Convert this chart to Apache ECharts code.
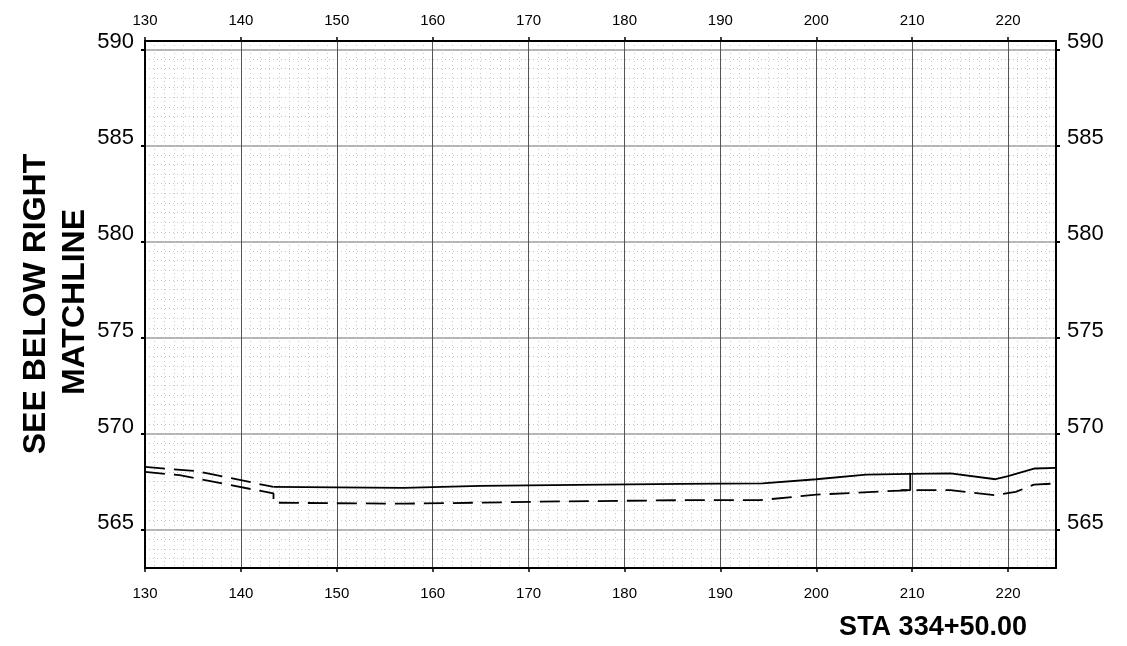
<!DOCTYPE html>
<html>
<head>
<meta charset="utf-8">
<title>STA 334+50.00</title>
<script src="https://cdn.jsdelivr.net/npm/echarts@6/dist/echarts.min.js"></script>
<style>
  html, body { margin: 0; padding: 0; background: #fff; }
  #chart { width: 1127px; height: 646px; }
</style>
</head>
<body>
<div id="chart"></div>
<script>
// tick labels
var xTicks = [130, 140, 150, 160, 170, 180, 190, 200, 210, 220]
var yTicks = [565, 570, 575, 580, 585, 590]

// existing ground, left of the break (dashed)
var groundLeft = [[130, 568.26], [135.4, 568.04], [143.4, 567.22]]

// existing ground (solid)
var groundRight = [
  [143.4, 567.22], [150, 567.2], [157, 567.17], [165, 567.27], [175, 567.33],
  [186, 567.38], [194.4, 567.4], [200, 567.62], [205.2, 567.86], [209.8, 567.9],
  [214, 567.92], [218.7, 567.62], [220, 567.78], [222.8, 568.18], [225, 568.21]
]

// proposed grade (dashed)
var proposed = [
  [130, 568.0], [133.6, 567.83], [143.4, 566.88], [143.4, 566.4], [150, 566.37],
  [157, 566.35], [165, 566.4], [170.8, 566.45], [186, 566.53], [194.1, 566.53],
  [200, 566.82], [209.7, 567.05], [214, 567.05], [218.7, 566.79], [220.8, 566.96],
  [222.7, 567.34], [225, 567.4]
]

// tie line at sta 209.8
var tieLine = [[208.8, 567.05], [209.8, 567.05], [209.8, 567.9]]

var font = 'Liberation Sans, Arial, sans-serif'

var chart = echarts.init(document.getElementById('chart'))

function xAxisOpt(pos, grid) {
  return {
    type: 'value',
    position: pos,
    min: 130,
    max: 225,
    interval: 10,
    axisLine: { show: true, onZero: false, lineStyle: { color: '#000', width: 2 } },
    axisTick: { show: true, length: 4, customValues: xTicks, lineStyle: { color: '#000', width: 1.5 } },
    axisLabel: {
      show: true,
      customValues: xTicks,
      margin: pos === 'top' ? 13 : 18,
      fontSize: 15,
      fontFamily: font,
      color: '#000'
    },
    splitLine: { show: grid, lineStyle: { color: '#555', width: 1 } }
  }
}

function yAxisOpt(pos, grid) {
  return {
    type: 'value',
    position: pos,
    min: 563,
    max: 590.43,
    axisLine: { show: true, onZero: false, lineStyle: { color: '#000', width: 2 } },
    axisTick: { show: true, length: 4, customValues: yTicks, lineStyle: { color: '#000', width: 2 } },
    axisLabel: {
      show: true,
      customValues: yTicks,
      margin: 11,
      fontSize: 22,
      fontFamily: font,
      color: '#000',
      verticalAlign: 'bottom',
      lineHeight: 14
    },
    splitLine: { show: grid, lineStyle: { color: '#a0a0a0', width: 1.5 } }
  }
}

// hidden axes only used for the dotted minor grid (drawn first, under the major lines)
var minorX = {
  type: 'value', min: 130, max: 225, interval: 1,
  axisLine: { show: false }, axisTick: { show: false }, axisLabel: { show: false },
  splitLine: { show: true, lineStyle: { color: '#c8c8c8', width: 1, type: [1, 3] } }
}
var minorY = {
  type: 'value', min: 563, max: 590.43, interval: 0.5,
  axisLine: { show: false }, axisTick: { show: false }, axisLabel: { show: false },
  splitLine: { show: true, lineStyle: { color: '#c8c8c8', width: 1, type: [1, 3] } }
}

var dashed = [20, 9]

chart.setOption({
  backgroundColor: '#fff',
  animation: false,
  grid: { left: 145, right: 71, top: 41, bottom: 78 },
  xAxis: [minorX, xAxisOpt('bottom', true), xAxisOpt('top', false)],
  yAxis: [minorY, yAxisOpt('left', true), yAxisOpt('right', false)],
  graphic: [
    {
      type: 'text', x: 36, y: 304, rotation: Math.PI / 2,
      style: { text: 'SEE BELOW RIGHT', font: 'bold 32px ' + font, fill: '#000', align: 'center', verticalAlign: 'middle' }
    },
    {
      type: 'text', x: 75, y: 302, rotation: Math.PI / 2,
      style: { text: 'MATCHLINE', font: 'bold 32px ' + font, fill: '#000', align: 'center', verticalAlign: 'middle' }
    },
    {
      type: 'text', x: 1027, y: 628,
      style: { text: 'STA 334+50.00', font: 'bold 27px ' + font, fill: '#000', align: 'right', verticalAlign: 'middle' }
    }
  ],
  series: [
    {
      name: 'groundLeft', type: 'line', data: groundLeft, symbol: 'none',
      xAxisIndex: 1, yAxisIndex: 1,
      lineStyle: { color: '#000', width: 1.8, type: dashed }
    },
    {
      name: 'ground', type: 'line', data: groundRight, symbol: 'none',
      xAxisIndex: 1, yAxisIndex: 1,
      lineStyle: { color: '#000', width: 1.8 }
    },
    {
      name: 'proposed', type: 'line', data: proposed, symbol: 'none',
      xAxisIndex: 1, yAxisIndex: 1,
      lineStyle: { color: '#000', width: 1.8, type: dashed }
    },
    {
      name: 'tie', type: 'line', data: tieLine, symbol: 'none',
      xAxisIndex: 1, yAxisIndex: 1,
      lineStyle: { color: '#000', width: 1.8 }
    }
  ]
})
</script>
</body>
</html>
